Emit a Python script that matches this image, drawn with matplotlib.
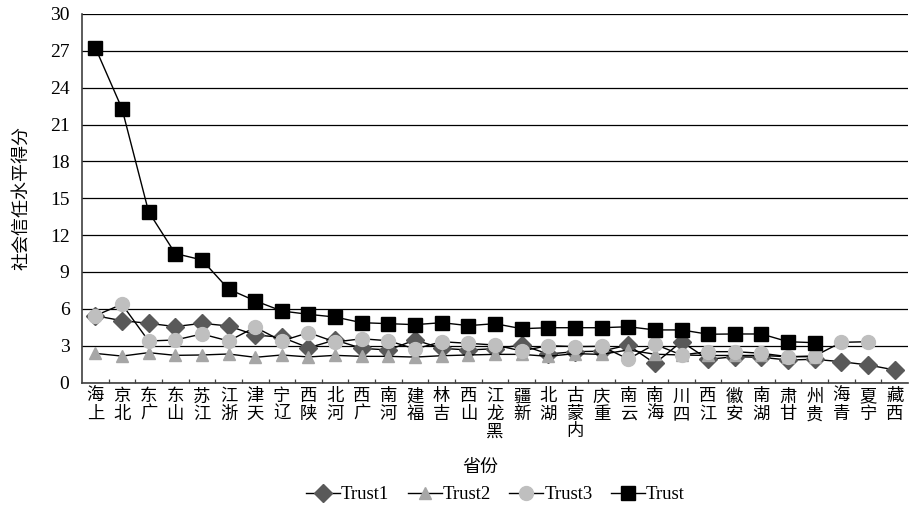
import numpy as np
import matplotlib
matplotlib.use('Agg')
import matplotlib.pyplot as plt

plt.rcParams['font.family'] = ['Liberation Serif', 'Noto Sans CJK SC']

provinces = [
    '上海', '北京', '广东', '山东', '江苏', '浙江', '天津', '辽宁', '陕西', '河北',
    '广西', '河南', '福建', '吉林', '山西', '黑龙江', '新疆', '湖北', '内蒙古', '重庆',
    '云南', '海南', '四川', '江西', '安徽', '湖南', '甘肃', '贵州', '青海', '宁夏', '西藏',
]

trust1 = [5.44, 5.03, 4.82, 4.55, 4.82, 4.60, 3.87, 3.68, 2.83, 3.46,
          2.78, 2.65, 3.46, 2.78, 2.65, 2.75, 3.05, 2.32, 2.51, 2.55,
          3.05, 1.55, 3.32, 1.89, 2.10, 2.05, 1.83, 1.89, 1.69, 1.43, 1.02]

trust2 = [2.37, 2.15, 2.43, 2.21, 2.24, 2.32, 2.05, 2.24, 2.08, 2.21,
          2.13, 2.13, 2.07, 2.18, 2.24, 2.29, 2.29, 2.13, 2.35, 2.29,
          2.65, 2.30, 2.24, 2.20, 2.20, 2.20, 2.10, 2.10, np.nan, np.nan, np.nan]

trust3 = [5.44, 6.37, 3.38, 3.46, 3.95, 3.38, 4.50, 3.38, 4.06, 3.30,
          3.56, 3.40, 2.73, 3.32, 3.19, 3.05, 2.57, 3.00, 2.92, 2.95,
          1.91, 3.11, 2.24, 2.51, 2.51, 2.38, 2.10, 2.16, 3.27, 3.32, np.nan]

trust = [27.26, 22.30, 13.90, 10.50, 9.98, 7.60, 6.65, 5.82, 5.55, 5.33,
         4.87, 4.79, 4.71, 4.87, 4.63, 4.79, 4.38, 4.46, 4.46, 4.46,
         4.54, 4.28, 4.28, 3.93, 3.95, 3.95, 3.32, 3.24, np.nan, np.nan, np.nan]

y_ticks = list(range(0, 31, 3))


def stacked_label(name: str) -> str:
    """
    Characters stacked upright, read bottom to top.
    """
    return '\n'.join(reversed(name))


def draw_chart(path: str) -> None:
    fig = plt.figure(figsize=(9.09, 5.07), dpi=100)
    ax = fig.add_axes([82 / 909, 124.5 / 507, 826 / 909, 368.5 / 507])

    x = np.arange(len(provinces))
    series = [
        (trust1, 'Trust1', 'D', '#595959', 9),
        (trust2, 'Trust2', '^', '#a6a6a6', 9),
        (trust3, 'Trust3', 'o', '#bfbfbf', 10),
        (trust, 'Trust', 's', '#000000', 10),
    ]
    for values, label, marker, color, size in series:
        ax.plot(x, values, color='black', linewidth=1.0, marker=marker,
                markersize=size, markerfacecolor=color, markeredgecolor=color,
                label=label, zorder=3)

    ax.set_ylim(0, 30)
    ax.set_yticks(y_ticks)
    ax.yaxis.grid(True, color='black', linewidth=0.9)
    ax.set_axisbelow(True)
    ax.tick_params(axis='y', length=0, pad=9, labelsize=14)

    ax.set_xlim(-0.5, len(provinces) - 0.5)
    ax.set_xticks(x)
    ax.set_xticklabels([stacked_label(p) for p in provinces], fontsize=12.5,
                       linespacing=1.12, va='top')
    ax.set_xticks(x[:-1] + 0.5, minor=True)
    ax.tick_params(axis='x', which='major', length=0, pad=5)
    ax.tick_params(axis='x', which='minor', direction='in', length=3,
                   width=0.9, color='#404040')

    for side in ['top', 'right']:
        ax.spines[side].set_visible(False)
    for side in ['left', 'bottom']:
        ax.spines[side].set_color('#404040')
        ax.spines[side].set_linewidth(1.2)

    ax.set_ylabel('社会信任水平得分', fontsize=13, labelpad=14)
    fig.text(0.528, 0.078, '省份', fontsize=13, ha='center', va='center')

    fig.legend(loc='center', bbox_to_anchor=(0.545, 0.024), ncol=4,
               frameon=False, fontsize=13.5, handlelength=1.8,
               handletextpad=0.05, columnspacing=1.0, borderpad=0)

    fig.savefig(path, dpi=100)
    plt.close(fig)


if __name__ == "__main__":
    draw_chart('out.png')
